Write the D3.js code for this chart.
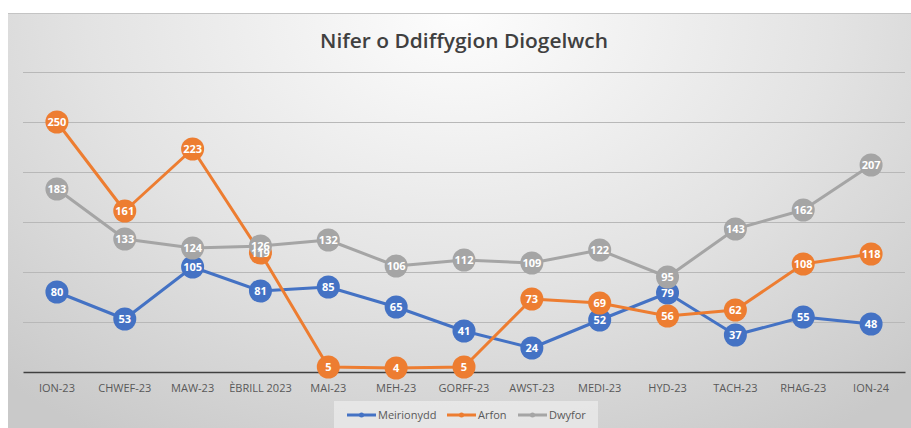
<!DOCTYPE html>
<html>
<head>
<meta charset="utf-8">
<script src="https://cdn.jsdelivr.net/npm/d3@7"></script>
<style>
  body { margin: 0; background: #fff; }
  svg { display: block; }
</style>
</head>
<body>
<svg id="chart" width="911" height="428"></svg>
<script>
// chart data
var months = ['ION-23', 'CHWEF-23', 'MAW-23', 'ÈBRILL 2023', 'MAI-23', 'MEH-23', 'GORFF-23',
  'AWST-23', 'MEDI-23', 'HYD-23', 'TACH-23', 'RHAG-23', 'ION-24'];
var meirionydd = [80, 53, 105, 81, 85, 65, 41, 24, 52, 79, 37, 55, 48];
var arfon = [250, 161, 223, 119, 5, 4, 5, 73, 69, 56, 62, 108, 118];
var dwyfor = [183, 133, 124, 126, 132, 106, 112, 109, 122, 95, 143, 162, 207];
var yTicks = [0, 50, 100, 150, 200, 250, 300];

var series = [
  { name: 'Meirionydd', values: meirionydd, color: '#4472C4' },
  { name: 'Arfon', values: arfon, color: '#ED7D31' },
  { name: 'Dwyfor', values: dwyfor, color: '#A5A5A5' }
];

var svg = d3.select('#chart');
var defs = svg.append('defs');

// background gradient (light at top centre, grey towards edges)
var grad = defs.append('radialGradient')
  .attr('id', 'bg')
  .attr('cx', '50%').attr('cy', '0%')
  .attr('r', '75%')
  .attr('gradientTransform', 'translate(0.5,0) scale(1,1.6) translate(-0.5,0)');
grad.append('stop').attr('offset', '0%').attr('stop-color', '#fdfdfd');
grad.append('stop').attr('offset', '55%').attr('stop-color', '#e3e3e3');
grad.append('stop').attr('offset', '100%').attr('stop-color', '#c9c9c9');

svg.append('rect')
  .attr('x', 8).attr('y', 13)
  .attr('width', 903).attr('height', 415)
  .attr('fill', 'url(#bg)');
svg.append('line')
  .attr('x1', 8).attr('x2', 911).attr('y1', 13.5).attr('y2', 13.5)
  .attr('stroke', '#c4c4c4').attr('stroke-width', 1);

// title
svg.append('text')
  .attr('x', 464).attr('y', 48)
  .attr('text-anchor', 'middle')
  .style('font-family', '"Open Sans", sans-serif')
  .style('font-weight', 600)
  .style('font-size', '20px')
  .style('fill', '#404040')
  .attr('textLength', 288)
  .attr('lengthAdjust', 'spacingAndGlyphs')
  .text('Nifer o Ddiffygion Diogelwch');

// scales
var x = d3.scaleBand().domain(months).range([23, 905]);
var y = d3.scaleLinear().domain([0, 300]).range([372, 72]);
var cx = function(i) { return x(months[i]) + x.bandwidth() / 2; };

// gridlines
svg.append('g').selectAll('line')
  .data(yTicks.slice(1))
  .enter().append('line')
  .attr('x1', 23).attr('x2', 905)
  .attr('y1', function(d) { return y(d) + 0.5; })
  .attr('y2', function(d) { return y(d) + 0.5; })
  .attr('stroke', '#b8b8b8').attr('stroke-width', 1);

// x axis
var xAxis = svg.append('g')
  .attr('transform', 'translate(0,' + y(0) + ')')
  .call(d3.axisBottom(x).tickSize(0).tickPadding(12));
xAxis.select('.domain').attr('stroke', '#404040').attr('stroke-width', 1.5);
xAxis.selectAll('text')
  .style('font-family', '"Open Sans", sans-serif')
  .style('font-size', '11px')
  .style('fill', '#595959');

// lines
var line = d3.line()
  .x(function(d, i) { return cx(i); })
  .y(function(d) { return y(d); });

svg.append('g').selectAll('path')
  .data(series)
  .enter().append('path')
  .attr('d', function(s) { return line(s.values); })
  .attr('fill', 'none')
  .attr('stroke', function(s) { return s.color; })
  .attr('stroke-width', 3)
  .attr('stroke-linejoin', 'round');

// circular data labels: all bubbles first, then all numbers on top
var bubbles = svg.append('g');
var numbers = svg.append('g');
series.forEach(function(s) {
  bubbles.append('g').selectAll('circle')
    .data(s.values)
    .enter().append('circle')
    .attr('cx', function(d, i) { return cx(i); })
    .attr('cy', function(d) { return y(d); })
    .attr('r', 11.5)
    .attr('fill', s.color);
  numbers.append('g').selectAll('text')
    .data(s.values)
    .enter().append('text')
    .attr('x', function(d, i) { return cx(i); })
    .attr('y', function(d) { return y(d); })
    .attr('text-anchor', 'middle')
    .attr('dy', '0.36em')
    .style('font-family', '"Open Sans", sans-serif')
    .style('font-weight', 700)
    .style('font-size', '11px')
    .style('fill', '#fff')
    .text(function(d) { return d; });
});

// legend
svg.append('rect')
  .attr('x', 334).attr('y', 401)
  .attr('width', 264).attr('height', 27)
  .attr('fill', '#f2f2f2').attr('opacity', 0.6);

var legendX = [347, 447, 518];
var leg = svg.append('g').selectAll('g')
  .data(series)
  .enter().append('g')
  .attr('transform', function(s, i) { return 'translate(' + legendX[i] + ',415)'; });
leg.append('line')
  .attr('x1', 0).attr('x2', 29)
  .attr('stroke', function(s) { return s.color; })
  .attr('stroke-width', 3);
leg.append('circle')
  .attr('cx', 14.5).attr('r', 2.5)
  .attr('fill', function(s) { return s.color; });
leg.append('text')
  .attr('x', 31).attr('dy', '0.35em')
  .style('font-family', '"Open Sans", sans-serif')
  .style('font-size', '11px')
  .style('fill', '#595959')
  .text(function(s) { return s.name; });
</script>
</body>
</html>
